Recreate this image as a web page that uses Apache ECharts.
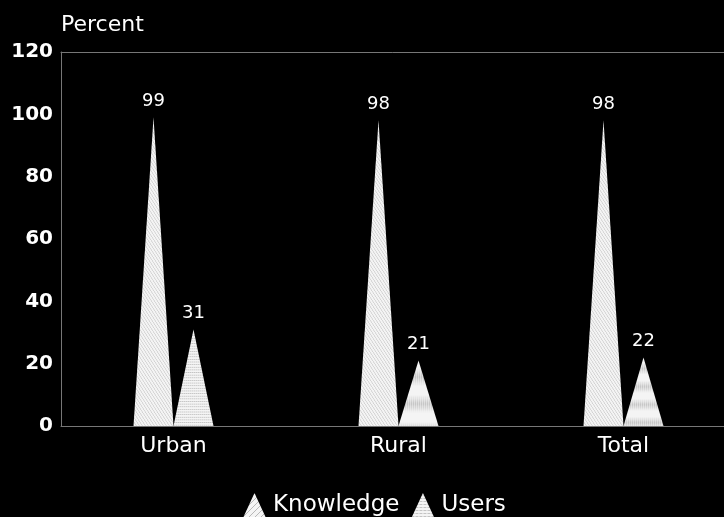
<!DOCTYPE html>
<html>
<head>
<meta charset="utf-8">
<style>
  html, body { margin: 0; padding: 0; background: #000; }
  #chart { width: 724px; height: 517px; }
</style>
<script src="https://cdn.jsdelivr.net/npm/echarts@6/dist/echarts.min.js"></script>
</head>
<body>
<div id="chart"></div>
<script>
// Awareness vs. use, by area of residence (percent)
const categories = ['Urban', 'Rural', 'Total'];
const knowledge = [99, 98, 98];
const users = [31, 21, 22];
const yTicks = { min: 0, max: 120, interval: 20 };

// Fill textures: diagonal hatch and horizontal dashes on white
function hatchPattern() {
  const c = document.createElement('canvas');
  c.width = 6; c.height = 6;
  const g = c.getContext('2d');
  g.fillStyle = '#f4f4f4';
  g.fillRect(0, 0, 6, 6);
  g.strokeStyle = '#b8b8b8';
  g.lineWidth = 1;
  g.beginPath();
  g.moveTo(0, 6); g.lineTo(6, 0);
  g.moveTo(-3, 3); g.lineTo(3, -3);
  g.moveTo(3, 9); g.lineTo(9, 3);
  g.stroke();
  return c;
}
function dashPattern() {
  const c = document.createElement('canvas');
  c.width = 4; c.height = 3;
  const g = c.getContext('2d');
  g.fillStyle = '#f4f4f4';
  g.fillRect(0, 0, 4, 3);
  g.fillStyle = '#c4c4c4';
  g.fillRect(0, 2, 3, 1);
  return c;
}
const knowFill = { image: hatchPattern(), repeat: 'repeat' };
const userFill = { image: dashPattern(), repeat: 'repeat' };

const font = '"DejaVu Sans", Verdana, sans-serif';
const frame = '#777';
const chart = echarts.init(document.getElementById('chart'));
chart.setOption({
  backgroundColor: '#000',
  animation: false,
  grid: { left: 61, right: -12, top: 52, bottom: 91, outerBoundsMode: 'none', containLabel: false },
  legend: {
    top: 488,
    left: 238,
    icon: 'triangle',
    itemWidth: 23,
    itemHeight: 25,
    itemGap: 12,
    textStyle: { color: '#fff', fontSize: 23, fontFamily: font, padding: [0, 0, 0, 2] },
    data: ['Knowledge', 'Users']
  },
  xAxis: [
    {
      type: 'category',
      data: categories,
      axisLine: { lineStyle: { color: frame } },
      axisTick: { show: false },
      axisLabel: { color: '#fff', fontSize: 22, fontFamily: font, margin: 9 }
    },
    {
      // top edge of the plotting frame
      type: 'category',
      position: 'top',
      data: categories,
      axisLine: { lineStyle: { color: frame } },
      axisTick: { show: false },
      axisLabel: { show: false }
    }
  ],
  yAxis: {
    type: 'value',
    min: yTicks.min,
    max: yTicks.max,
    interval: yTicks.interval,
    name: 'Percent',
    nameLocation: 'end',
    nameGap: 16,
    nameTextStyle: { color: '#fff', fontSize: 22, fontFamily: font, align: 'left' },
    axisLine: { show: true, lineStyle: { color: frame } },
    axisTick: { show: false },
    splitLine: { show: false },
    axisLabel: { color: '#fff', fontSize: 20, fontWeight: 'bold', fontFamily: font, margin: 8 }
  },
  series: [
    {
      name: 'Knowledge',
      type: 'pictorialBar',
      symbol: 'triangle',
      barWidth: 40,
      barGap: '0%',
      data: knowledge,
      itemStyle: { color: knowFill },
      label: { show: true, position: 'top', distance: 7, color: '#fff', fontSize: 18, fontFamily: font }
    },
    {
      name: 'Users',
      type: 'pictorialBar',
      symbol: 'triangle',
      barWidth: 40,
      barGap: '0%',
      data: users,
      itemStyle: { color: userFill },
      label: { show: true, position: 'top', distance: 7, color: '#fff', fontSize: 18, fontFamily: font }
    }
  ]
});
</script>
</body>
</html>
